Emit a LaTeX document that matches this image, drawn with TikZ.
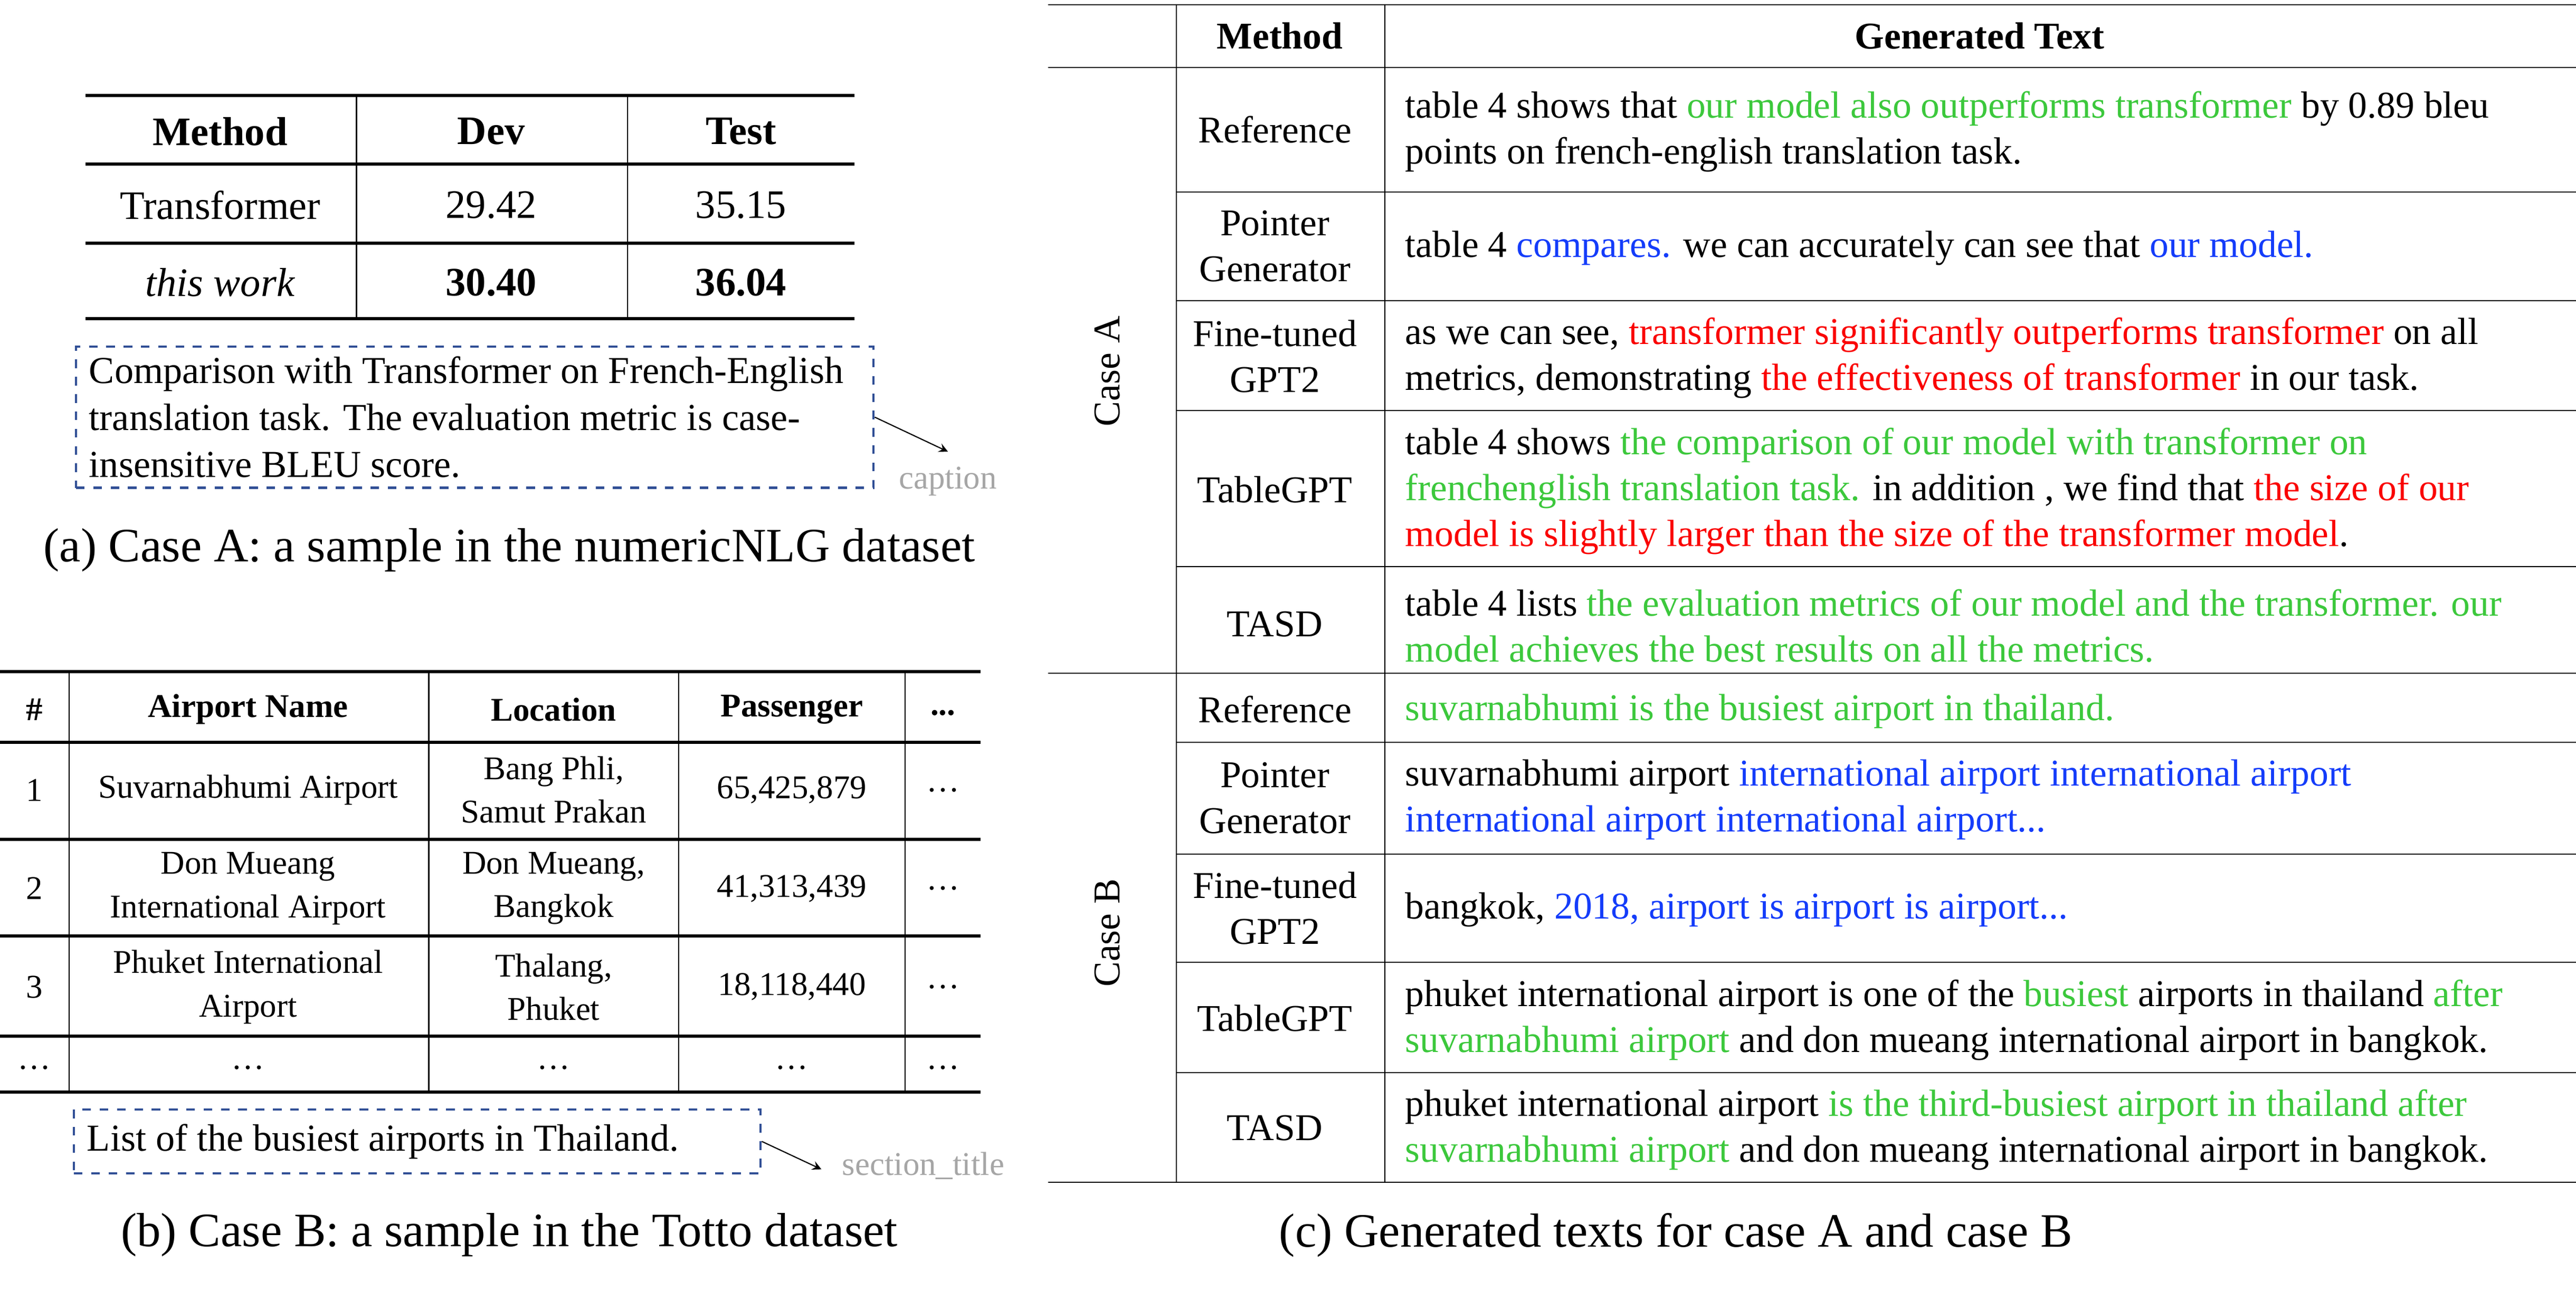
\documentclass[tikz,border=0pt]{standalone}
\usepackage{fontspec}
\setmainfont{Liberation Serif}
\usepackage{xcolor}
\usetikzlibrary{positioning}
\definecolor{tgreen}{RGB}{60,200,60}
\definecolor{tblue}{RGB}{20,60,250}
\definecolor{tred}{RGB}{250,0,0}
\definecolor{boxblue}{RGB}{50,80,150}
\newcommand{\gtxt}[1]{\textcolor{tgreen}{#1}}
\newcommand{\btxt}[1]{\textcolor{tblue}{#1}}
\newcommand{\rtxt}[1]{\textcolor{tred}{#1}}
\tikzstyle{cellA} = [font=\fontsize{14}{17}\selectfont, inner sep=0pt]
\tikzstyle{cellB} = [font=\fontsize{11.5}{15}\selectfont, inner sep=0pt, align=center]
\tikzstyle{meth} = [font=\fontsize{13.1}{15.9}\selectfont, inner sep=0pt, align=center]
\tikzstyle{gen} = [font=\fontsize{13.1}{15.9}\selectfont, inner sep=0pt, align=left, anchor=west]
\tikzstyle{capbox} = [draw=boxblue, dashed, thick, align=flush left, font=\fontsize{13.2}{16.2}\selectfont, inner xsep=1.6mm, inner ysep=3pt]
\tikzstyle{sublabel} = [font=\fontsize{16.6}{19}\selectfont, inner sep=0pt]
\tikzstyle{tag} = [text=gray!70, font=\fontsize{11.5}{14}\selectfont, inner sep=0pt]
\tikzstyle{arrow} = [->, >=stealth, thin]
\tikzstyle{rule} = [line width=1.1pt]

\begin{document}
\begin{tikzpicture}[x=0.2mm, y=-0.2mm]
    \useasboundingbox (0,0) rectangle (1568,786);

    % (a) table
    \foreach \y in {58,100,148,194} \draw[rule] (52,\y) -- (520,\y);
    \foreach \x in {217,382} \draw (\x,58) -- (\x,194);
    \node (aMeth) [cellA] at (134,80) {\textbf{Method}};
    \node (aDev) [cellA] at (299,80) {\textbf{Dev}};
    \node (aTest) [cellA] at (451,80) {\textbf{Test}};
    \node (aTr) [cellA] at (134,125) {Transformer};
    \node (aTrDev) [cellA] at (299,125) {29.42};
    \node (aTrTest) [cellA] at (451,125) {35.15};
    \node (aTw) [cellA] at (134,172) {\textit{this work}};
    \node (aTwDev) [cellA] at (299,172) {\textbf{30.40}};
    \node (aTwTest) [cellA] at (451,172) {\textbf{36.04}};
    \node (capA) [capbox, text width=93.9mm, minimum height=17.2mm] at (289,254) {Comparison with Transformer on French-English\\translation task. The evaluation metric is case-\\insensitive BLEU score.};
    \coordinate (capAtip) at (577,275);
    \node (capAtag) [tag] at (577,293) {caption};
    \draw[arrow] (capA.east) -- (capAtip);
    \node (subA) [sublabel] at (310,335) {(a) Case A: a sample in the numericNLG dataset};

    % (b) table
    \foreach \y in {409,452,511,570,631,665} \draw[rule] (0,\y) -- (597,\y);
    \foreach \x in {42,261,413,551} \draw (\x,409) -- (\x,665);
    \node (bNo) [cellB] at (21,432) {\textbf{\#}};
    \node (bName) [cellB] at (151,432) {\textbf{Airport Name}};
    \node (bLoc) [cellB] at (337,432) {\textbf{Location}};
    \node (bPas) [cellB] at (482,432) {\textbf{Passenger}};
    \node (bMore) [cellB] at (574,434) {\textbf{...}};
    \node (b1) [cellB] at (21,481) {1};
    \node (b1n) [cellB] at (151,481) {Suvarnabhumi Airport};
    \node (b1l) [cellB] at (337,481) {Bang Phli,\\Samut Prakan};
    \node (b1p) [cellB] at (482,481) {65,425,879};
    \node (b1m) [cellB] at (574,481) {\dots};
    \node (b2) [cellB] at (21,541) {2};
    \node (b2n) [cellB] at (151,541) {Don Mueang\\International Airport};
    \node (b2l) [cellB] at (337,541) {Don Mueang,\\Bangkok};
    \node (b2p) [cellB] at (482,541) {41,313,439};
    \node (b2m) [cellB] at (574,541) {\dots};
    \node (b3) [cellB] at (21,601) {3};
    \node (b3n) [cellB] at (151,601) {Phuket International\\Airport};
    \node (b3l) [cellB] at (337,601) {Thalang,\\Phuket};
    \node (b3p) [cellB] at (482,601) {18,118,440};
    \node (b3m) [cellB] at (574,601) {\dots};
    \node (b4) [cellB] at (21,650) {\dots};
    \node (b4n) [cellB] at (151,650) {\dots};
    \node (b4l) [cellB] at (337,650) {\dots};
    \node (b4p) [cellB] at (482,650) {\dots};
    \node (b4m) [cellB] at (574,650) {\dots};
    \node (capB) [capbox, text width=80.4mm, minimum height=7.8mm] at (254,695) {List of the busiest airports in Thailand.};
    \coordinate (capBtip) at (500,712);
    \node (capBtag) [tag] at (562,710) {section\_title};
    \draw[arrow] (capB.east) -- (capBtip);
    \node (subB) [sublabel] at (310,752) {(b) Case B: a sample in the Totto dataset};

    % (c) generated texts
    \draw (638,3) -- (1568,3);
    \draw (638,41) -- (1568,41);
    \draw (638,410) -- (1568,410);
    \draw (638,720) -- (1568,720);
    \foreach \y in {117,183,250,345,452,520,586,653} \draw (716,\y) -- (1568,\y);
    \foreach \x in {716,843} \draw (\x,3) -- (\x,720);
    \node (cMeth) [meth] at (779,22) {\textbf{Method}};
    \node (cGen) [meth] at (1205,22) {\textbf{Generated Text}};
    \node (caseA) [meth, rotate=90] at (674,226) {Case A};
    \node (caseB) [meth, rotate=90] at (674,568) {Case B};

    \node (aRef) [meth] at (776,79) {Reference};
    \node (aPg) [meth] at (776,150) {Pointer\\Generator};
    \node (aFt) [meth] at (776,217) {Fine-tuned\\GPT2};
    \node (aTg) [meth] at (776,298) {TableGPT};
    \node (aTasd) [meth] at (776,380) {TASD};
    \node (aRefT) [gen] at (855,80) {table 4 shows that \gtxt{our model also outperforms transformer} by 0.89 bleu\\points on french-english translation task.};
    \node (aPgT) [gen] at (855,151) {table 4 \btxt{compares.} we can accurately can see that \btxt{our model.}};
    \node (aFtT) [gen] at (855,218) {as we can see, \rtxt{transformer significantly outperforms transformer} on all\\metrics, demonstrating \rtxt{the effectiveness of transformer} in our task.};
    \node (aTgT) [gen] at (855,299) {table 4 shows \gtxt{the comparison of our model with transformer on}\\\gtxt{frenchenglish translation task.} in addition , we find that \rtxt{the size of our}\\\rtxt{model is slightly larger than the size of the transformer model}.};
    \node (aTasdT) [gen] at (855,381) {table 4 lists \gtxt{the evaluation metrics of our model and the transformer. our}\\\gtxt{model achieves the best results on all the metrics.}};

    \node (bRef) [meth] at (776,432) {Reference};
    \node (bPg) [meth] at (776,486) {Pointer\\Generator};
    \node (bFt) [meth] at (776,553) {Fine-tuned\\GPT2};
    \node (bTg) [meth] at (776,620) {TableGPT};
    \node (bTasd) [meth] at (776,687) {TASD};
    \node (bRefT) [gen] at (855,433) {\gtxt{suvarnabhumi is the busiest airport in thailand.}};
    \node (bPgT) [gen] at (855,487) {suvarnabhumi airport \btxt{international airport international airport}\\\btxt{international airport international airport...}};
    \node (bFtT) [gen] at (855,554) {bangkok, \btxt{2018, airport is airport is airport...}};
    \node (bTgT) [gen] at (855,621) {phuket international airport is one of the \gtxt{busiest} airports in thailand \gtxt{after}\\\gtxt{suvarnabhumi airport} and don mueang international airport in bangkok.};
    \node (bTasdT) [gen] at (855,688) {phuket international airport \gtxt{is the third-busiest airport in thailand after}\\\gtxt{suvarnabhumi airport} and don mueang international airport in bangkok.};
    \node (subC) [sublabel] at (1020,752) {(c) Generated texts for case A and case B};
\end{tikzpicture}
\end{document}
